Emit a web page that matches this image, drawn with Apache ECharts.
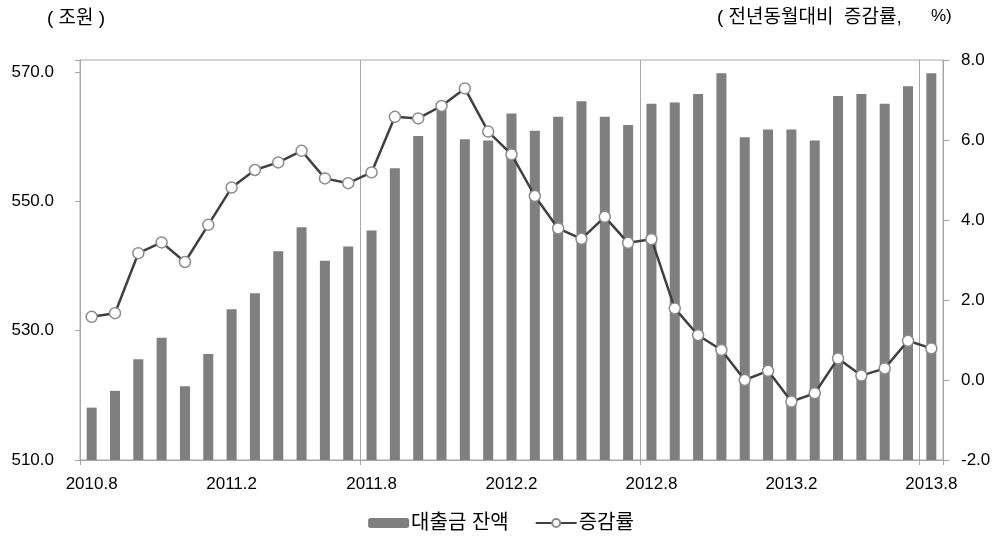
<!DOCTYPE html>
<html><head><meta charset="utf-8">
<script src="https://cdn.jsdelivr.net/npm/echarts@6/dist/echarts.min.js"></script>
<style>html,body{margin:0;padding:0;background:#fff}#c{width:1002px;height:539px}</style>
</head><body><div id="c"></div>
<script>
var categories = ['2010.8','2010.9','2010.10','2010.11','2010.12','2011.1','2011.2','2011.3','2011.4','2011.5','2011.6','2011.7',
  '2011.8','2011.9','2011.10','2011.11','2011.12','2012.1','2012.2','2012.3','2012.4','2012.5','2012.6','2012.7',
  '2012.8','2012.9','2012.10','2012.11','2012.12','2013.1','2013.2','2013.3','2013.4','2013.5','2013.6','2013.7','2013.8'];
var loanBalance = [518.1,520.7,525.6,528.9,521.4,526.4,533.3,535.8,542.3,546.0,540.8,543.0,
  545.5,555.1,560.1,564.1,559.6,559.4,563.6,560.9,563.1,565.5,563.1,561.8,
  565.1,565.3,566.6,569.8,559.9,561.1,561.1,559.4,566.3,566.6,565.1,567.8,569.8];
var growthRate = [1.58,1.67,3.17,3.44,2.95,3.88,4.81,5.25,5.44,5.73,5.04,4.92,
  5.19,6.58,6.54,6.85,7.29,6.21,5.64,4.60,3.79,3.53,4.08,3.43,
  3.52,1.79,1.12,0.75,0.00,0.23,-0.54,-0.33,0.54,0.11,0.29,0.98,0.79];
var leftTicks = [510, 530, 550, 570];
var rightTicks = [-2, 0, 2, 4, 6, 8];

var FONT = 'Liberation Sans, Noto Sans CJK KR, sans-serif';
var chart = echarts.init(document.getElementById('c'));
chart.setOption({
  animation: false,
  backgroundColor: '#fff',
  grid: {left: 80, right: 59, top: 60, bottom: 79, show: true, borderColor: '#a6a6a6', borderWidth: 1, backgroundColor: 'transparent'},
  graphic: [
    {type: 'text', left: 47, top: 9, style: {text: '( 조원 )', font: '19px ' + FONT, fill: '#000'}},
    {type: 'text', left: 717, top: 8, style: {text: '( 전년동월대비  증감률,', font: '19px ' + FONT, fill: '#000'}},
    {type: 'text', left: 931, top: 8, style: {text: '%)', font: '17px ' + FONT, fill: '#000'}}
  ],
  legend: {
    top: 513, left: 'center', padding: 0, itemWidth: 41, itemHeight: 10, itemGap: 26,
    textStyle: {fontSize: 20, color: '#000', fontFamily: FONT, padding: [0, 0, 0, -3]},
    data: ['대출금 잔액', '증감률']
  },
  xAxis: {
    type: 'category', data: categories, boundaryGap: true,
    axisLine: {onZero: false, lineStyle: {color: '#a6a6a6', width: 1}},
    axisTick: {show: true, length: 5, lineStyle: {color: '#a6a6a6'}, interval: function (i) { return i % 12 === 0; }},
    splitLine: {show: true, lineStyle: {color: '#a6a6a6', width: 1}, interval: function (i) { return i % 12 === 0; }},
    axisLabel: {interval: 5, color: '#000', fontSize: 17, fontFamily: FONT, margin: 16}
  },
  yAxis: [
    {
      type: 'value', min: 510, max: 571.86, interval: 20,
      axisLine: {show: true, lineStyle: {color: '#a6a6a6'}},
      axisTick: {show: true, length: 5, lineStyle: {color: '#a6a6a6'}},
      splitLine: {show: false},
      axisLabel: {color: '#000', fontSize: 17, fontFamily: FONT, margin: 26,
        formatter: function (v) { return leftTicks.indexOf(Math.round(v * 100) / 100) >= 0 ? v.toFixed(1) : ''; }}
    },
    {
      type: 'value', min: -2, max: 8, interval: 2, position: 'right',
      axisLine: {show: true, lineStyle: {color: '#a6a6a6'}},
      axisTick: {show: true, length: 6, lineStyle: {color: '#a6a6a6'}},
      splitLine: {show: false},
      axisLabel: {color: '#000', fontSize: 17, fontFamily: FONT, margin: 18,
        formatter: function (v) { return rightTicks.indexOf(v) >= 0 ? v.toFixed(1) : ''; }}
    }
  ],
  series: [
    {
      name: '대출금 잔액', type: 'bar', data: loanBalance, barWidth: 10, yAxisIndex: 0,
      itemStyle: {color: '#7f7f7f'}
    },
    {
      name: '증감률', type: 'line', data: growthRate, yAxisIndex: 1,
      symbol: 'circle', symbolSize: 11, showAllSymbol: true,
      lineStyle: {color: '#404040', width: 2.5},
      itemStyle: {color: '#ffffff', borderColor: '#8c8c8c', borderWidth: 1.5}
    }
  ]
});
</script></body></html>
